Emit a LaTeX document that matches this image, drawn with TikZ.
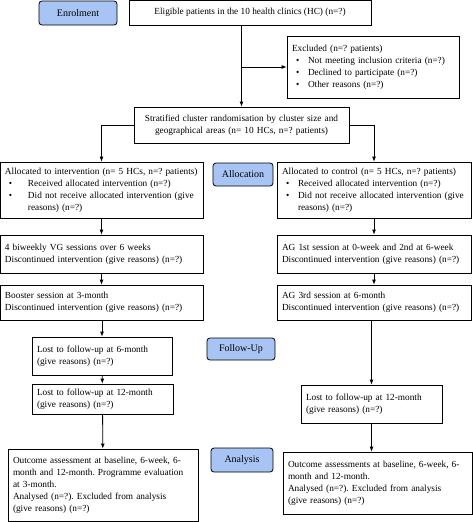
\documentclass[tikz,border=0pt]{standalone}
\usepackage{fontspec}
\setmainfont{Liberation Serif}
\usetikzlibrary{arrows.meta}
\definecolor{stagefill}{RGB}{168,196,245}
\frenchspacing
\hyphenpenalty=10000
\newcommand{\bul}[2][23pt]{\par\noindent\hangindent=#1\hangafter=1\makebox[#1][l]{\hspace{4pt}\textbullet}#2\par}
\tikzset{
  box/.style={draw, line width=0.8pt, inner xsep=5pt, inner ysep=2pt, align=left,
    font=\fontsize{9.3}{12}\selectfont},
  stage/.style={draw, line width=0.8pt, rounded corners=3pt, fill=stagefill,
    font=\fontsize{10}{12}\selectfont},
  arr/.style={draw, line width=0.8pt, -{Latex[length=5pt,width=4pt]}}
}
\begin{document}
\begin{tikzpicture}[x=1pt,y=-1pt]
\useasboundingbox (0,0) rectangle (473,522);
% stage labels
\node[stage, minimum width=78pt, minimum height=24pt] (enrol) at (78,13) {Enrolment};
\node[stage, minimum width=60pt, minimum height=23pt] (alloc) at (243,174.5) {Allocation};
\node[stage, minimum width=68pt, minimum height=22pt] (follow) at (241,349) {Follow-Up};
\node[stage, minimum width=62pt, minimum height=24pt] (anal) at (242,460) {Analysis};
% enrolment
\node[box, align=center, minimum width=242pt, minimum height=25pt] (elig) at (250,12.5)
  {Eligible patients in the 10 health clinics (HC) (n=?)};
\node[box, text width=162pt, minimum height=62pt] (excl) at (373,67)
  {Excluded (n=? patients)
   \bul[16pt]{Not meeting inclusion criteria (n=?)}
   \bul[16pt]{Declined to participate (n=?)}
   \bul[16pt]{Other reasons (n=?)}};
\node[box, align=center, text width=205pt, minimum height=36pt] (rand) at (241.5,125)
  {Stratified cluster randomisation by cluster size and\\
   geographical areas (n= 10 HCs, n=? patients)};
% intervention arm
\node[box, text width=193pt, minimum height=56pt] (int1) at (101.5,190)
  {Allocated to intervention (n= 5 HCs, n=? patients)
   \bul{Received allocated intervention (n=?)}
   \bul{Did not receive allocated intervention (give\newline reasons) (n=?)}};
\node[box, text width=193pt, minimum height=38pt] (int2) at (101.5,254)
  {4 biweekly VG sessions over 6 weeks\\Discontinued intervention (give reasons) (n=?)};
\node[box, text width=193pt, minimum height=35pt] (int3) at (101.5,302.5)
  {Booster session at 3-month\\Discontinued intervention (give reasons) (n=?)};
\node[box, text width=130pt, minimum height=38pt] (int4) at (102,356)
  {Lost to follow-up at 6-month\\(give reasons) (n=?)};
\node[box, text width=131pt, minimum height=30pt] (int5) at (102.5,399)
  {Lost to follow-up at 12-month\\(give reasons) (n=?)};
\node[box, text width=180pt, minimum height=72pt] (int6) at (103,485)
  {Outcome assessment at baseline, 6-week, 6-\\month and 12-month. Programme evaluation\\at 3-month.\\
   Analysed (n=?). Excluded from analysis\\(give reasons) (n=?)};
% control arm
\node[box, text width=184pt, minimum height=56pt] (ctl1) at (374,190)
  {Allocated to control (n= 5 HCs, n=? patients)
   \bul[16pt]{Received allocated intervention (n=?)}
   \bul[16pt]{Did not receive allocated intervention (give\newline reasons) (n=?)}};
\node[box, text width=184pt, minimum height=38pt] (ctl2) at (374,254)
  {AG 1st session at 0-week and 2nd at 6-week\\Discontinued intervention (give reasons) (n=?)};
\node[box, text width=184pt, minimum height=35pt] (ctl3) at (374,302.5)
  {AG 3rd session at 6-month\\Discontinued intervention (give reasons) (n=?)};
\node[box, text width=131pt, minimum height=38pt] (ctl4) at (371.5,404)
  {Lost to follow-up at 12-month\\(give reasons) (n=?)};
\node[box, text width=179pt, minimum height=62pt] (ctl5) at (377.5,483)
  {Outcome assessments at baseline, 6-week, 6-\\month and 12-month.\\
   Analysed (n=?). Excluded from analysis\\(give reasons) (n=?)};
% connectors
\path[arr] (elig.south -| rand.north) -- (rand.north);
\path[arr] (rand.north |- excl.west) -- (excl.west);
\path[arr] (rand.west) -| (int1.north);
\path[arr] (rand.east) -| (ctl1.north);
\path[arr] (int1) -- (int2);
\path[arr] (int2) -- (int3);
\path[arr] (int3.south -| int4.north) -- (int4.north);
\path[arr] (int4) -- (int5);
\path[arr] (int5) -- (int6);
\path[arr] (ctl1) -- (ctl2);
\path[arr] (ctl2) -- (ctl3);
\path[arr] (ctl3.south -| ctl4.north) -- (ctl4.north);
\path[arr] (ctl4.south) -- (ctl4.south |- ctl5.north);
\end{tikzpicture}
\end{document}
